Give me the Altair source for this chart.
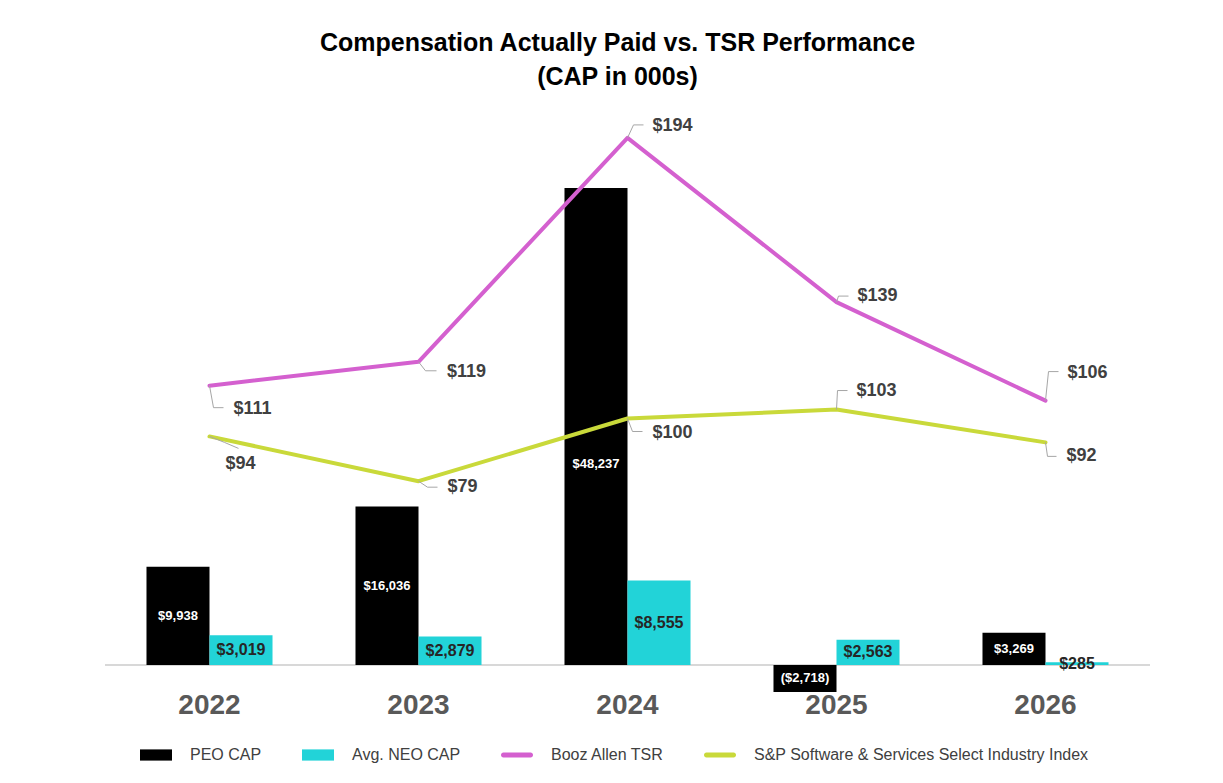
import altair as alt
import pandas as pd

# ---------------- data ----------------
years = ["2022", "2023", "2024", "2025", "2026"]
peo_cap = [9938, 16036, 48237, -2718, 3269]
neo_cap = [3019, 2879, 8555, 2563, 285]
booz_tsr = [111, 119, 194, 139, 106]
sp_index = [94, 79, 100, 103, 92]

series_names = ["PEO CAP", "Avg. NEO CAP", "Booz Allen TSR",
                "S&P Software & Services Select Industry Index"]
series_colors = ["#000000", "#22D3D8", "#D460CF", "#C9D93A"]

title_lines = ["Compensation Actually Paid vs. TSR Performance", "(CAP in 000s)"]


def money(v):
    return f"${v:,}" if v >= 0 else f"(${-v:,})"


bars_df = pd.DataFrame({
    "year": years * 2,
    "series": [series_names[0]] * len(years) + [series_names[1]] * len(years),
    "value": peo_cap + neo_cap,
})
bars_df["label"] = bars_df["value"].map(money)

lines_df = pd.DataFrame({
    "year": years * 2,
    "series": [series_names[2]] * len(years) + [series_names[3]] * len(years),
    "value": booz_tsr + sp_index,
})
lines_df["label"] = lines_df["value"].map(money)

# ------------- style: callout offsets (label centre, elbow, end) in px -------------
callout_style = {
    series_names[2]: [((43, 23), (4, 22), (14, 22)),
                      ((48, 10), (7, 9), (18, 9)),
                      ((45, -12), (6, -13), (16, -13)),
                      ((41, -6), (2, -6), (12, -6)),
                      ((42, -28), (3, -29), (13, -29))],
    series_names[3]: [((31, 28), (15, 6), (29, 12)),
                      ((44, 6), (9, 6), (19, 6)),
                      ((45, 14), (5, 13), (15, 13)),
                      ((40, -19), (1, -19), (11, -19)),
                      ((36, 14), (2, 14), (11, 14))],
}

FONT = "Liberation Sans"
LABEL_GRAY = "#404040"
LEADER_GRAY = "#A6A6A6"

RECT_PATH = "M-1,-0.35H1V0.35H-1Z"
LINE_PATH = ("M-0.85,-0.15H0.85A0.15,0.15 0 0 1 0.85,0.15"
             "H-0.85A0.15,0.15 0 0 1 -0.85,-0.15Z")
shape_expr = (f"indexof(['{series_names[0]}','{series_names[1]}'], datum.value) >= 0"
              f" ? '{RECT_PATH}' : '{LINE_PATH}'")

legend = alt.Legend(
    title=None, orient="none", legendX=35, legendY=619, direction="horizontal",
    symbolType=alt.ExprRef(expr=shape_expr), symbolSize=1024, symbolStrokeWidth=0,
    symbolOpacity=1, labelFont=FONT, labelFontSize=16, labelColor=LABEL_GRAY,
    labelOffset=18, columnPadding=40, labelLimit=500,
)
color = alt.Color("series:N", scale=alt.Scale(domain=series_names, range=series_colors),
                  legend=legend)

# ------------- bar layer (primary, hidden axis) -------------
xband = alt.X("year:N", title=None, sort=years,
              scale=alt.Scale(paddingInner=0.397, paddingOuter=0.1985),
              axis=alt.Axis(domain=False, ticks=False, grid=False, labelAngle=0,
                            labelFont=FONT, labelFontSize=28, labelFontWeight="bold",
                            labelColor="#595959", labelPadding=-26))
xoff = alt.XOffset("series:N", sort=series_names[:2],
                   scale=alt.Scale(domain=series_names[:2], paddingInner=0, paddingOuter=0))
ybar_scale = alt.Scale(domain=[-5258, 55106], nice=False, zero=False)

bar_base = alt.Chart(bars_df)

zero_rule = bar_base.mark_rule(color="#D9D9D9", strokeWidth=1).encode(
    y=alt.datum(0, scale=ybar_scale, axis=None)
)

bars = bar_base.mark_bar().encode(
    x=xband, xOffset=xoff,
    y=alt.Y("value:Q", scale=ybar_scale, axis=None, title=None),
    color=color,
)

bar_text_base = bar_base.transform_calculate(mid="datum.value / 2")

peo_text = bar_text_base.transform_filter(
    (alt.datum.series == series_names[0]) & (alt.datum.year != "2024")
).mark_text(font=FONT, fontSize=13, fontWeight="bold", color="white",
            align="center", baseline="middle").encode(
    x=alt.X("year:N", sort=years), xOffset=xoff,
    y=alt.Y("mid:Q", scale=ybar_scale, axis=None), text="label:N")

peo_text_2024 = bar_text_base.transform_filter(
    (alt.datum.series == series_names[0]) & (alt.datum.year == "2024")
).mark_text(font=FONT, fontSize=13, fontWeight="bold", color="white",
            align="center", baseline="middle", dy=38).encode(
    x=alt.X("year:N", sort=years), xOffset=xoff,
    y=alt.Y("mid:Q", scale=ybar_scale, axis=None), text="label:N")

neo_text = bar_text_base.transform_filter(
    alt.datum.series == series_names[1]
).mark_text(font=FONT, fontSize=16, fontWeight="bold", color="#262626",
            align="center", baseline="middle").encode(
    x=alt.X("year:N", sort=years), xOffset=xoff,
    y=alt.Y("mid:Q", scale=ybar_scale, axis=None), text="label:N")

bar_layer = alt.layer(zero_rule, bars, peo_text, peo_text_2024, neo_text)

# ------------- line layer (secondary, hidden axis) -------------
xpt = alt.X("year:N", sort=years, scale=alt.Scale(type="point", padding=0.5), axis=None)
yline_scale = alt.Scale(domain=[0, 200], nice=False, zero=False)
yline = alt.Y("value:Q", scale=yline_scale, axis=None, title=None)

line_base = alt.Chart(lines_df)
lines = line_base.mark_line(strokeWidth=4, strokeCap="round", strokeJoin="round").encode(
    x=xpt, y=yline, color=color, detail="series:N")

callout_layers = []
for s, offsets in callout_style.items():
    for yr, (lab, elb, end) in zip(years, offsets):
        sel = line_base.transform_filter(
            (alt.datum.series == s) & (alt.datum.year == yr))
        enc = dict(x=xpt, y=yline, x2="year:N", y2="value:Q")
        seg1 = sel.mark_rule(color=LEADER_GRAY, strokeWidth=1,
                             xOffset=0, yOffset=0,
                             x2Offset=elb[0], y2Offset=elb[1]).encode(**enc)
        seg2 = sel.mark_rule(color=LEADER_GRAY, strokeWidth=1,
                             xOffset=elb[0], yOffset=elb[1],
                             x2Offset=end[0], y2Offset=end[1]).encode(**enc)
        txt = sel.mark_text(font=FONT, fontSize=18, fontWeight="bold", color=LABEL_GRAY,
                            align="center", baseline="middle",
                            dx=lab[0], dy=lab[1]).encode(x=xpt, y=yline, text="label:N")
        callout_layers += [seg1, seg2, txt]

line_layer = alt.layer(lines, *callout_layers)

chart = alt.layer(bar_layer, line_layer).resolve_scale(
    x="independent", y="independent"
).properties(
    width=1045, height=597,
    autosize=alt.AutoSizeParams(type="none"),
    padding={"left": 97, "top": 112, "right": 50, "bottom": 50},
    title=alt.TitleParams(text=title_lines, font=FONT, fontSize=25, fontWeight="bold",
                          color="#000000", anchor="middle", dx=-10, offset=27,
                          lineHeight=34),
    background="white",
).configure_view(stroke=None)

chart.save("out.html", embed_options={"renderer": "svg", "actions": False})
